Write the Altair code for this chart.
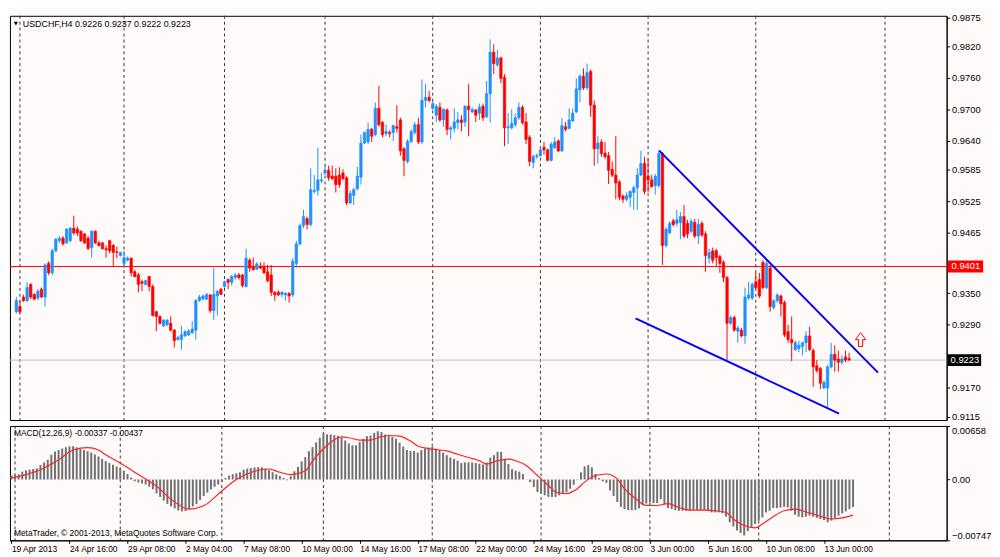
import json
import numpy as np
import pandas as pd
import altair as alt

# ---------------- data ----------------
bar_open = [
.9315, .9325, .9343, .9336, .9367, .9348, .9341, .9358, .9343, .9407,
.9389, .9431, .9450, .9455, .9446, .9450, .9474, .9472, .9468, .9463,
.9455, .9437, .9468, .9446, .9446, .9435, .9450, .9441, .9429, .9422,
.9407, .9413, .9417, .9391, .9385, .9372, .9367, .9382, .9363, .9315,
.9306, .9288, .9290, .9293, .9280, .9262, .9262, .9269, .9271, .9275,
.9280, .9336, .9339, .9339, .9347, .9317, .9345, .9358, .9363, .9376,
.9371, .9380, .9385, .9385, .9363, .9413, .9400, .9396, .9402, .9400,
.9391, .9385, .9352, .9352, .9348, .9347, .9350, .9347, .9407, .9444,
.9479, .9492, .9481, .9544, .9546, .9564, .9579, .9584, .9573, .9573,
.9575, .9579, .9570, .9522, .9536, .9549, .9571, .9636, .9638, .9662,
.9652, .9702, .9675, .9654, .9656, .9656, .9667, .9680, .9625, .9601,
.9639, .9656, .9671, .9638, .9717, .9723, .9702, .9689, .9704, .9680,
.9699, .9662, .9664, .9675, .9680, .9676, .9706, .9695, .9699, .9693,
.9706, .9686, .9730, .9809, .9785, .9798, .9761, .9665, .9665, .9671,
.9684, .9704, .9676, .9647, .9599, .9610, .9612, .9628, .9623, .9603,
.9627, .9640, .9621, .9667, .9664, .9678, .9695, .9737, .9763, .9741,
.9772, .9708, .9625, .9638, .9617, .9612, .9586, .9575, .9562, .9535,
.9529, .9533, .9542, .9551, .9575, .9597, .9573, .9566, .9555, .9555,
.9616, .9441, .9465, .9488, .9483, .9485, .9496, .9483, .9468, .9485,
.9459, .9483, .9463, .9417, .9431, .9431, .9420, .9409, .9380, .9293,
.9304, .9278, .9280, .9269, .9341, .9341, .9372, .9376, .9409, .9361,
.9398, .9323, .9336, .9345, .9332, .9277, .9262, .9243, .9245, .9249,
.9256, .9269, .9241, .9212, .9207, .9170, .9170, .9210, .9234, .9225,
.9219, .9229, .9226]

bar_high = [
.9343, .9336, .9347, .9371, .9369, .9350, .9358, .9361, .9407, .9411,
.9435, .9455, .9459, .9459, .9474, .9476, .9498, .9477, .9470, .9465,
.9459, .9470, .9470, .9450, .9448, .9441, .9452, .9444, .9439, .9429,
.9431, .9420, .9418, .9395, .9389, .9376, .9376, .9383, .9367, .9317,
.9308, .9301, .9301, .9306, .9282, .9269, .9288, .9280, .9282, .9297,
.9339, .9347, .9348, .9350, .9348, .9398, .9356, .9360, .9374, .9378,
.9385, .9389, .9389, .9387, .9435, .9417, .9418, .9409, .9409, .9409,
.9404, .9404, .9354, .9356, .9354, .9352, .9352, .9417, .9450, .9483,
.9509, .9496, .9588, .9575, .9627, .9579, .9593, .9593, .9593, .9588,
.9590, .9586, .9573, .9546, .9551, .9591, .9652, .9658, .9675, .9665,
.9713, .9745, .9678, .9671, .9660, .9671, .9708, .9684, .9628, .9643,
.9662, .9676, .9684, .9757, .9748, .9735, .9717, .9710, .9713, .9702,
.9702, .9669, .9702, .9695, .9689, .9708, .9748, .9704, .9700, .9711,
.9711, .9754, .9833, .9824, .9813, .9800, .9767, .9693, .9700, .9693,
.9713, .9708, .9693, .9651, .9614, .9616, .9630, .9638, .9625, .9638,
.9647, .9643, .9684, .9676, .9702, .9702, .9759, .9767, .9778, .9787,
.9776, .9717, .9649, .9643, .9638, .9619, .9601, .9649, .9566, .9538,
.9542, .9546, .9555, .9588, .9621, .9610, .9606, .9575, .9577, .9623,
.9619, .9476, .9487, .9492, .9509, .9505, .9518, .9490, .9492, .9492,
.9492, .9487, .9468, .9435, .9437, .9435, .9424, .9413, .9383, .9308,
.9308, .9288, .9284, .9361, .9372, .9371, .9389, .9389, .9413, .9413,
.9404, .9339, .9350, .9348, .9336, .9290, .9306, .9260, .9260, .9258,
.9278, .9286, .9245, .9223, .9210, .9184, .9214, .9256, .9251, .9241,
.9232, .9241, .9237]

bar_low = [
.9312, .9312, .9334, .9334, .9339, .9337, .9337, .9341, .9325, .9385,
.9385, .9428, .9446, .9441, .9444, .9448, .9461, .9459, .9448, .9444,
.9433, .9418, .9444, .9439, .9433, .9418, .9426, .9400, .9417, .9420,
.9398, .9411, .9382, .9380, .9352, .9354, .9365, .9354, .9306, .9278,
.9291, .9286, .9288, .9278, .9247, .9260, .9243, .9267, .9269, .9273,
.9262, .9334, .9337, .9337, .9313, .9299, .9308, .9347, .9361, .9358,
.9365, .9376, .9376, .9361, .9361, .9391, .9393, .9395, .9396, .9387,
.9371, .9345, .9336, .9345, .9343, .9336, .9332, .9343, .9398, .9441,
.9474, .9472, .9477, .9540, .9536, .9560, .9575, .9564, .9566, .9542,
.9551, .9566, .9518, .9520, .9518, .9546, .9557, .9634, .9634, .9638,
.9649, .9667, .9647, .9649, .9647, .9640, .9656, .9612, .9573, .9597,
.9636, .9652, .9634, .9634, .9704, .9713, .9699, .9676, .9676, .9667,
.9651, .9643, .9656, .9662, .9658, .9667, .9649, .9693, .9676, .9680,
.9678, .9684, .9675, .9767, .9781, .9750, .9630, .9634, .9662, .9667,
.9680, .9671, .9634, .9592, .9588, .9606, .9610, .9614, .9601, .9601,
.9625, .9619, .9619, .9658, .9662, .9676, .9693, .9713, .9737, .9737,
.9686, .9593, .9597, .9610, .9606, .9558, .9571, .9529, .9527, .9522,
.9525, .9514, .9509, .9509, .9573, .9538, .9542, .9551, .9538, .9551,
.9404, .9437, .9463, .9477, .9477, .9453, .9455, .9455, .9465, .9455,
.9444, .9457, .9391, .9407, .9407, .9400, .9389, .9371, .9223, .9290,
.9277, .9256, .9266, .9254, .9337, .9337, .9358, .9341, .9358, .9358,
.9315, .9319, .9332, .9306, .9267, .9256, .9221, .9240, .9238, .9232,
.9238, .9240, .9172, .9199, .9168, .9168, .9133, .9207, .9201, .9201,
.9214, .9219, .9222]

bar_close = [
.9336, .9315, .9336, .9361, .9343, .9339, .9354, .9343, .9404, .9389,
.9431, .9453, .9455, .9444, .9472, .9474, .9465, .9465, .9450, .9446,
.9435, .9468, .9446, .9441, .9435, .9433, .9431, .9428, .9428, .9428,
.9418, .9417, .9389, .9382, .9367, .9369, .9374, .9363, .9308, .9306,
.9293, .9299, .9299, .9280, .9260, .9266, .9271, .9277, .9278, .9282,
.9336, .9343, .9345, .9348, .9317, .9348, .9354, .9348, .9372, .9371,
.9382, .9385, .9380, .9365, .9417, .9398, .9395, .9406, .9398, .9389,
.9374, .9352, .9347, .9347, .9352, .9350, .9345, .9411, .9444, .9479,
.9496, .9481, .9547, .9546, .9566, .9566, .9584, .9570, .9568, .9557,
.9557, .9568, .9522, .9540, .9547, .9573, .9636, .9656, .9662, .9649,
.9702, .9671, .9652, .9658, .9654, .9669, .9664, .9621, .9603, .9639,
.9658, .9671, .9638, .9717, .9723, .9717, .9711, .9706, .9680, .9700,
.9662, .9665, .9676, .9680, .9675, .9706, .9700, .9700, .9689, .9704,
.9684, .9730, .9809, .9787, .9798, .9759, .9665, .9667, .9673, .9684,
.9704, .9675, .9643, .9601, .9610, .9612, .9623, .9623, .9603, .9634,
.9638, .9621, .9669, .9662, .9680, .9693, .9739, .9763, .9741, .9770,
.9708, .9625, .9636, .9616, .9610, .9584, .9575, .9560, .9533, .9529,
.9536, .9544, .9551, .9575, .9597, .9544, .9566, .9553, .9573, .9616,
.9441, .9472, .9483, .9481, .9490, .9496, .9459, .9463, .9487, .9459,
.9481, .9461, .9422, .9428, .9413, .9418, .9407, .9380, .9293, .9304,
.9280, .9284, .9269, .9343, .9347, .9367, .9361, .9345, .9361, .9407,
.9325, .9336, .9347, .9330, .9271, .9262, .9256, .9256, .9251, .9256,
.9269, .9243, .9210, .9203, .9179, .9181, .9210, .9234, .9223, .9219,
.9225, .9223, .9223]

macd_main = [
0.00053, 0.00056, 0.00065, 0.00097, 0.00113, 0.00121, 0.00129, 0.00137, 0.00178, 0.00210,
0.00242, 0.00303, 0.00343, 0.00363, 0.00380, 0.00396, 0.00408, 0.00408, 0.00396, 0.00375,
0.00363, 0.00348, 0.00331, 0.00307, 0.00283, 0.00254, 0.00226, 0.00202, 0.00182, 0.00161,
0.00137, 0.00109, 0.00068, 0.00024, -0.00020, -0.00036, -0.00049, -0.00061, -0.00089, -0.00121,
-0.00170, -0.00214, -0.00258, -0.00299, -0.00331, -0.00355, -0.00380, -0.00392, -0.00387, -0.00363,
-0.00331, -0.00303, -0.00251, -0.00202, -0.00161, -0.00121, -0.00089, -0.00061, -0.00029, 0.00020,
0.00049, 0.00065, 0.00077, 0.00089, 0.00121, 0.00134, 0.00141, 0.00149, 0.00153, 0.00149,
0.00134, 0.00113, 0.00089, 0.00065, 0.00044, 0.00020, -0.00008, 0.00041, 0.00101, 0.00153,
0.00222, 0.00275, 0.00348, 0.00399, 0.00456, 0.00514, 0.00567, 0.00555, 0.00553, 0.00545,
0.00537, 0.00517, 0.00480, 0.00444, 0.00420, 0.00420, 0.00460, 0.00501, 0.00533, 0.00541,
0.00573, 0.00594, 0.00582, 0.00553, 0.00533, 0.00525, 0.00501, 0.00453, 0.00404, 0.00363,
0.00351, 0.00351, 0.00331, 0.00363, 0.00380, 0.00392, 0.00400, 0.00380, 0.00363, 0.00331,
0.00299, 0.00270, 0.00251, 0.00231, 0.00202, 0.00210, 0.00210, 0.00210, 0.00202, 0.00194,
0.00185, 0.00210, 0.00270, 0.00299, 0.00339, 0.00339, 0.00251, 0.00190, 0.00129, 0.00109,
0.00097, 0.00068, 0.00002, -0.00032, -0.00093, -0.00153, -0.00173, -0.00194, -0.00214, -0.00214,
-0.00214, -0.00194, -0.00173, -0.00153, -0.00113, -0.00065, 0.00005, 0.00089, 0.00161, 0.00178,
0.00149, 0.00068, 0.00017, -0.00024, -0.00041, -0.00134, -0.00202, -0.00275, -0.00336, -0.00363,
-0.00375, -0.00375, -0.00375, -0.00355, -0.00315, -0.00295, -0.00283, -0.00289, -0.00289, -0.00242,
-0.00303, -0.00351, -0.00363, -0.00375, -0.00384, -0.00384, -0.00384, -0.00384, -0.00375, -0.00375,
-0.00375, -0.00375, -0.00375, -0.00404, -0.00404, -0.00404, -0.00416, -0.00456, -0.00525, -0.00577,
-0.00626, -0.00658, -0.00687, -0.00634, -0.00585, -0.00545, -0.00505, -0.00465, -0.00404, -0.00384,
-0.00351, -0.00351, -0.00343, -0.00336, -0.00343, -0.00384, -0.00432, -0.00456, -0.00465, -0.00456,
-0.00444, -0.00456, -0.00472, -0.00485, -0.00497, -0.00525, -0.00505, -0.00472, -0.00444, -0.00416,
-0.00392, -0.00363, -0.00337]

signal_bar = [0, 4, 8, 13, 17, 21, 24, 26, 30, 35, 40, 44, 49, 53, 58, 62, 67, 71, 74, 77,
              81, 83, 86, 89, 91, 93, 96, 99, 101, 104, 107, 110, 112, 115, 118, 120, 123, 126, 129, 131,
              134, 137, 139, 142, 145, 148, 150, 153, 156, 158, 161, 164, 167, 169, 172, 175, 178, 181, 184, 187,
              191, 194, 197, 199, 202, 205, 207, 210, 213, 216, 218, 221, 224, 226, 229, 232]
signal_val = [0.00020, 0.00061, 0.00121, 0.00242, 0.00363, 0.00392, 0.00363, 0.00303, 0.00202, 0.00061,
              -0.00081, -0.00242, -0.00363, -0.00323, -0.00141, 0.00000, 0.00101, 0.00129, 0.00089, 0.00061,
              0.00105, 0.00226, 0.00378, 0.00489, 0.00525, 0.00513, 0.00485, 0.00485, 0.00513, 0.00541,
              0.00533, 0.00472, 0.00412, 0.00380, 0.00363, 0.00351, 0.00311, 0.00270, 0.00231, 0.00190,
              0.00231, 0.00251, 0.00231, 0.00170, 0.00049, -0.00073, -0.00153, -0.00173, -0.00113, -0.00032,
              0.00049, 0.00068, 0.00008, -0.00113, -0.00234, -0.00318, -0.00319, -0.00295, -0.00343, -0.00375,
              -0.00375, -0.00384, -0.00404, -0.00485, -0.00565, -0.00594, -0.00545, -0.00456, -0.00384, -0.00363,
              -0.00384, -0.00424, -0.00465, -0.00485, -0.00472, -0.00437]

# user-drawn trend lines (bar index, price)
trend_name = ["upper", "upper", "lower", "lower"]
trend_bar = [179.1, 240.05, 172.5, 229.2]
trend_price = [0.96216, 0.91992, 0.93024, 0.91213]

arrow_bar = [235.2]
arrow_price = [0.92619]

grid_bars = [1, 30, 58, 86, 116, 146, 176, 206, 242]
label_bars = [0, 16, 32, 48, 64, 80, 96, 112, 128, 144, 160, 176, 192, 208, 224]
label_text = ["19 Apr 2013", "24 Apr 16:00", "29 Apr 08:00", "2 May 04:00", "7 May 08:00",
              "10 May 00:00", "14 May 16:00", "17 May 08:00", "22 May 00:00", "24 May 16:00",
              "29 May 08:00", "3 Jun 00:00", "5 Jun 16:00", "10 Jun 08:00", "13 Jun 00:00"]
price_ticks = [0.9875, 0.9820, 0.9760, 0.9700, 0.9640, 0.9585, 0.9525, 0.9465,
               0.9350, 0.9290, 0.9170, 0.9115]
macd_ticks = [0.00658, 0.0, -0.00747]
level_price = 0.9401
bid_price = 0.9223

title_text = "USDCHF,H4  0.9226 0.9237 0.9222 0.9223"
macd_text = "MACD(12,26,9) -0.00337 -0.00437"
copyright_text = "MetaTrader, \u00a9 2001-2013, MetaQuotes Software Corp."

# ---------------- layout / styles ----------------
n = len(bar_close)
assert all(len(a) == n for a in (bar_open, bar_high, bar_low, macd_main))
assert len(signal_bar) == len(signal_val)

W, H1, H2 = 950, 410, 116
X_DOM = [-0.4, 257.8]
P_DOM = [0.91089, 0.98781]
M_DOM = [-0.00747, 0.00658]
BULL, BEAR = "#1E90FF", "#FF0000"
FONT = "Liberation Sans"
BG = "#FFFAFA"

candles = pd.DataFrame({"bar": np.arange(n), "open": bar_open, "high": bar_high,
                        "low": bar_low, "close": bar_close, "macd": macd_main})
candles["dir"] = np.where(candles["close"] >= candles["open"], "up", "down")
signal = pd.DataFrame({"bar": signal_bar, "sig": signal_val})
trend = pd.DataFrame({"name": trend_name, "bar": trend_bar, "price": trend_price})
arrow = pd.DataFrame({"bar": arrow_bar, "price": arrow_price})
grid = pd.DataFrame({"gbar": grid_bars})
one = pd.DataFrame({"k": [0]})

xscale = alt.Scale(domain=X_DOM, nice=False, zero=False)
pscale = alt.Scale(domain=P_DOM, nice=False, zero=False)
mscale = alt.Scale(domain=M_DOM, nice=False, zero=False)

price_axis = alt.Axis(orient="right", values=price_ticks, format=".4f", title=None, grid=False,
                      tickSize=3, labelPadding=2, labelFontSize=9.5, labelFont=FONT,
                      labelColor="black", domainColor="black", tickColor="black", labelOverlap=False)
macd_axis = alt.Axis(orient="right", values=macd_ticks, title=None, grid=False,
                     labelExpr="datum.value == 0 ? '0.00' : format(datum.value, '.5f')",
                     labelFlush=True, tickSize=3, labelPadding=2, labelFontSize=9.5, labelFont=FONT,
                     labelColor="black", domainColor="black", tickColor="black", labelOverlap=False)
time_axis = alt.Axis(orient="bottom", values=label_bars, title=None, grid=False,
                     labelExpr=json.dumps(label_text) + "[round(datum.value / 16)]",
                     labelAlign="left", labelPadding=1, tickSize=3, labelFontSize=8.5, labelFont=FONT,
                     labelColor="black", domainColor="black", tickColor="black", labelOverlap=False,
                     labelBound=False, labelFlush=False)

dir_color = alt.Color("dir:N", scale=alt.Scale(domain=["up", "down"], range=[BULL, BEAR]), legend=None)
dir_stroke = alt.Stroke("dir:N", scale=alt.Scale(domain=["up", "down"], range=[BULL, BEAR]), legend=None)


def px(field):
    return alt.X(field, type="quantitative", scale=xscale, axis=None)


def mx(field):
    return alt.X(field, type="quantitative", scale=xscale, axis=time_axis)


def py(field):
    return alt.Y(field, type="quantitative", scale=pscale, axis=price_axis)


def my(field):
    return alt.Y(field, type="quantitative", scale=mscale, axis=macd_axis)


# ---------------- price panel ----------------
p_grid = alt.Chart(grid).mark_rule(color="#333333", strokeDash=[3, 3], strokeWidth=1).encode(x=px("gbar"))
p_level = alt.Chart(one).mark_rule(color="#FF0000", strokeWidth=1).encode(
    y=alt.YDatum(level_price, scale=pscale, axis=price_axis))
p_bid = alt.Chart(one).mark_rule(color="#C0C0C0", strokeWidth=1).encode(
    y=alt.YDatum(bid_price, scale=pscale, axis=price_axis))
p_wick = alt.Chart(candles).mark_rule(strokeWidth=1).encode(
    x=px("bar"), y=py("low"), y2="high", color=dir_color)
p_body = alt.Chart(candles).mark_bar(width=2.4, strokeWidth=0.7).encode(
    x=px("bar"), y=py("open"), y2="close", color=dir_color, stroke=dir_stroke)
p_trend = alt.Chart(trend).mark_line(color="#0000FF", strokeWidth=2).encode(
    x=px("bar"), y=py("price"), detail="name:N")
p_arrow = alt.Chart(arrow).mark_point(
    shape="M-0.3,1L0.3,1L0.3,0L0.75,0L0,-1L-0.75,0L-0.3,0Z",
    filled=False, color="#FF0000", strokeWidth=1, size=196, opacity=1).encode(x=px("bar"), y=py("price"))
p_tri = alt.Chart(one).mark_point(shape="triangle-down", filled=True, color="black", size=18,
                                  opacity=1).encode(x=alt.value(6), y=alt.value(8))
p_title = alt.Chart(one).mark_text(align="left", baseline="middle", font=FONT, fontSize=9,
                                   color="black").encode(x=alt.value(13), y=alt.value(8),
                                                         text=alt.value(title_text))

HALF = 6 * (P_DOM[1] - P_DOM[0]) / H1
box_level = alt.Chart(one).mark_rect(color="#FF0000").encode(
    x=alt.value(W + 1), x2=alt.value(W + 37),
    y=alt.YDatum(level_price + HALF, scale=pscale, axis=price_axis), y2=alt.Y2Datum(level_price - HALF))
txt_level = alt.Chart(one).mark_text(align="left", baseline="middle", font=FONT, fontSize=9.5,
                                     color="white").encode(
    x=alt.value(W + 5), y=alt.YDatum(level_price, scale=pscale, axis=price_axis),
    text=alt.value("%.4f" % level_price))
box_bid = alt.Chart(one).mark_rect(color="#000000").encode(
    x=alt.value(W + 1), x2=alt.value(W + 35),
    y=alt.YDatum(bid_price + HALF, scale=pscale, axis=price_axis), y2=alt.Y2Datum(bid_price - HALF))
txt_bid = alt.Chart(one).mark_text(align="left", baseline="middle", font=FONT, fontSize=9.5,
                                   color="white").encode(
    x=alt.value(W + 4), y=alt.YDatum(bid_price, scale=pscale, axis=price_axis),
    text=alt.value("%.4f" % bid_price))

price_panel = alt.layer(p_grid, p_level, p_bid, p_wick, p_body, p_trend, p_arrow, p_tri, p_title,
                        box_level, txt_level, box_bid, txt_bid).properties(width=W, height=H1)

# ---------------- MACD panel ----------------
m_grid = alt.Chart(grid).mark_rule(color="#333333", strokeDash=[3, 3], strokeWidth=1).encode(x=mx("gbar"))
m_hist = alt.Chart(candles).mark_rule(color="#707070", strokeWidth=2).encode(
    x=mx("bar"), y=my("macd"), y2=alt.Y2Datum(0))
m_sig = alt.Chart(signal).mark_line(color="#FF2020", strokeWidth=1.2, interpolate="monotone").encode(
    x=mx("bar"), y=my("sig"))
m_txt = alt.Chart(one).mark_text(align="left", baseline="middle", font=FONT, fontSize=8.5,
                                 color="black").encode(x=alt.value(4), y=alt.value(7),
                                                       text=alt.value(macd_text))
m_copy = alt.Chart(one).mark_text(align="left", baseline="middle", font=FONT, fontSize=8.5,
                                  color="black").encode(x=alt.value(4), y=alt.value(H2 - 7),
                                                        text=alt.value(copyright_text))

macd_panel = alt.layer(m_grid, m_hist, m_sig, m_txt, m_copy).properties(width=W, height=H2)

chart = alt.vconcat(price_panel, macd_panel, spacing=3).properties(
    padding=0, background=BG
).configure(font=FONT).configure_view(stroke="black", strokeWidth=1)

chart.save("out.html", embed_options={"renderer": "svg", "actions": False})
